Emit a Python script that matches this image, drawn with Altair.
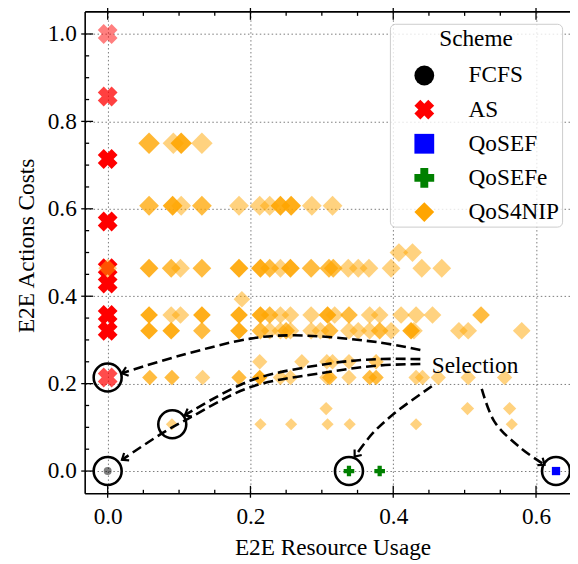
import altair as alt
import pandas as pd

FONT = "Liberation Serif"
FS = 23.5
W, H = 490, 487

SCHEMES = ["FCFS", "AS", "QoSEF", "QoSEFe", "QoS4NIP"]
COLORS = ["#000000", "#ff0000", "#0000ff", "#008000", "#ffa500"]
X_MARK = ("M -1 -0.4 L -0.4 -1 L 0 -0.6 L 0.4 -1 L 1 -0.4 L 0.6 0 "
          "L 1 0.4 L 0.4 1 L 0 0.6 L -0.4 1 L -1 0.4 L -0.6 0 Z")
SHAPES = ["circle", X_MARK, "square", "cross", "diamond"]

X_TICKS = [0.0, 0.2, 0.4, 0.6]
Y_TICKS = [0.0, 0.2, 0.4, 0.6, 0.8, 1.0]
X_MINOR = [0.05, 0.1, 0.15, 0.25, 0.3, 0.35, 0.45, 0.5, 0.55]
Y_MINOR = [0.05, 0.1, 0.15, 0.25, 0.3, 0.35, 0.45, 0.5, 0.55,
           0.65, 0.7, 0.75, 0.85, 0.9, 0.95]

# FCFS
fcfs_x = [0.0]
fcfs_y = [0.0]
fcfs_size = [64]
fcfs_alpha = [0.5]

# AS
as_x = [0.0, 0.0, 0.0, 0.0, 0.0, 0.0, 0.0, 0.0, 0.0]
as_y = [1.0, 0.857, 0.714, 0.571, 0.464, 0.429, 0.357, 0.321, 0.214]
as_size = [400, 400, 400, 400, 400, 400, 400, 400, 400]
as_alpha = [0.5, 0.75, 1.0, 1.0, 1.0, 1.0, 1.0, 1.0, 0.7]

# QoSEF
qosef_x = [0.628]
qosef_y = [0.0]
qosef_size = [70]
qosef_alpha = [1.0]

# QoSEFe
qosefe_x = [0.338, 0.381]
qosefe_y = [0.0, 0.0]
qosefe_size = [115, 115]
qosefe_alpha = [1.0, 1.0]

# QoS4NIP, one row per cost level: (cost, marker size, x values, alphas)
nip_rows = [
    (0.75, 470, [0.058, 0.092, 0.103, 0.132], [0.8, 0.5, 0.9, 0.5]),
    (0.607, 400, [0.058, 0.091, 0.103, 0.132, 0.184, 0.213, 0.227, 0.242, 0.257, 0.286, 0.315],
     [0.75, 0.9, 0.5, 0.75, 0.5, 0.5, 0.5, 0.9, 0.9, 0.5, 0.5]),
    (0.5, 360, [0.408, 0.427], [0.5, 0.5]),
    (0.464, 360, [0.0, 0.058, 0.089, 0.102, 0.132, 0.184, 0.214, 0.227, 0.242, 0.256, 0.285,
                  0.310, 0.316, 0.337, 0.351, 0.366, 0.397, 0.440, 0.468],
     [0.5, 0.85, 0.75, 0.5, 0.75, 0.9, 0.9, 0.75, 0.5, 0.9, 0.75,
      0.75, 0.75, 0.5, 0.5, 0.5, 0.5, 0.5, 0.5]),
    (0.393, 280, [0.188], [0.5]),
    (0.357, 320, [0.058, 0.089, 0.102, 0.132, 0.184, 0.214, 0.227, 0.242, 0.256, 0.285,
                  0.308, 0.318, 0.338, 0.367, 0.381, 0.411, 0.432, 0.455, 0.523],
     [0.9, 0.5, 0.5, 0.9, 0.9, 0.9, 0.75, 0.5, 0.5, 0.5,
      0.9, 0.5, 0.75, 0.5, 0.5, 0.5, 0.5, 0.5, 0.75]),
    (0.321, 320, [0.058, 0.089, 0.132, 0.184, 0.214, 0.227, 0.242, 0.250, 0.256, 0.285, 0.298,
                  0.311, 0.338, 0.351, 0.367, 0.381, 0.397, 0.425, 0.429, 0.492, 0.505, 0.580],
     [0.9, 0.9, 0.75, 0.9, 0.75, 0.5, 0.5, 0.75, 0.5, 0.5, 0.5,
      0.75, 0.5, 0.5, 0.5, 0.75, 0.5, 0.9, 0.5, 0.5, 0.5, 0.5]),
    (0.25, 240, [0.213, 0.272, 0.307, 0.315, 0.338, 0.376], [0.5, 0.5, 0.5, 0.5, 0.5, 0.6]),
    (0.214, 240, [0.059, 0.090, 0.133, 0.184, 0.213, 0.242, 0.256, 0.307, 0.311, 0.338, 0.367,
                  0.376, 0.432, 0.441, 0.463, 0.505, 0.556],
     [0.75, 0.75, 0.5, 0.75, 0.9, 0.5, 0.5, 0.5, 0.75, 0.5, 0.75,
      0.75, 0.5, 0.5, 0.5, 0.5, 0.5]),
    (0.143, 180, [0.306, 0.504, 0.563], [0.5, 0.5, 0.5]),
    (0.107, 150, [0.090, 0.214, 0.257, 0.308, 0.339, 0.432, 0.566],
     [0.5, 0.5, 0.5, 0.5, 0.5, 0.5, 0.5]),
]

# annotation: selected points (rings)
ring_x = [0.0, 0.0, 0.0905, 0.338, 0.628]
ring_y = [0.0, 0.214, 0.107, 0.0, 0.0]

# annotation: dashed arrows from the "Selection" label
arrows = [
    ([0.438, 0.377, 0.261, 0.200, 0.099, 0.020], [0.277, 0.295, 0.3105, 0.303, 0.263, 0.224]),
    ([0.438, 0.376, 0.307, 0.200, 0.108], [0.256, 0.256, 0.245, 0.207, 0.1275]),
    ([0.438, 0.376, 0.307, 0.200, 0.113, 0.076, 0.020], [0.245, 0.241, 0.226, 0.192, 0.120, 0.086, 0.0256]),
    ([0.454, 0.404, 0.371, 0.346], [0.194, 0.135, 0.086, 0.033]),
    ([0.524, 0.542, 0.579, 0.612], [0.188, 0.1125, 0.052, 0.0143]),
]
head_angles = [163, 152, 146, 128, 36]
label_text = ["Selection"]
label_x = [0.454]
label_y = [0.24]

# ---------------- tables ----------------
recs = []


def add(scheme, xs, ys, sizes, alphas):
    for x, y, s, a in zip(xs, ys, sizes, alphas):
        recs.append({"scheme": scheme, "x": x, "y": y, "size": s, "alpha": a, "idx": len(recs)})


add("FCFS", fcfs_x, fcfs_y, fcfs_size, fcfs_alpha)
add("AS", as_x, as_y, as_size, as_alpha)
add("QoSEF", qosef_x, qosef_y, qosef_size, qosef_alpha)
add("QoSEFe", qosefe_x, qosefe_y, qosefe_size, qosefe_alpha)
for cost, sz, xs, als in nip_rows:
    add("QoS4NIP", xs, [cost] * len(xs), [sz] * len(xs), als)
pts_df = pd.DataFrame(recs)

ring_df = pd.DataFrame({"x": ring_x, "y": ring_y})

arr_recs, head_recs = [], []
for i, (xs, ys) in enumerate(arrows):
    for k, (x, y) in enumerate(zip(xs, ys)):
        arr_recs.append({"arrow": i, "k": k, "x": x, "y": y})
    head_recs.append({"x": xs[-1], "y": ys[-1], "ang": head_angles[i]})
arr_df = pd.DataFrame(arr_recs)
head_df = pd.DataFrame(head_recs)
text_df = pd.DataFrame({"x": label_x, "y": label_y, "t": label_text})

# ---------------- scales / axes ----------------
xsc = alt.Scale(domain=[-0.0315, 0.6476], nice=False, zero=False)
ysc = alt.Scale(domain=[-0.052, 1.0505], nice=False, zero=False)

grid_kw = dict(domain=False, ticks=False, tickSize=0, grid=True, gridDash=[1.5, 2.5],
               gridColor="#7a7a7a", gridWidth=1, labelFont=FONT, labelFontSize=FS,
               labelColor="black", titleFont=FONT, titleFontSize=FS, titleFontWeight="normal",
               titleColor="black", format=".1f")
x_axis = alt.Axis(values=X_TICKS, labelPadding=11, title="E2E Resource Usage",
                  titleX=250, titleY=61, titleAlign="center", titleBaseline="alphabetic", **grid_kw)
y_axis = alt.Axis(values=Y_TICKS, labelPadding=9, title="E2E Actions Costs",
                  titleX=-59, titleY=236, titleAlign="center", titleBaseline="middle",
                  titleAngle=270, **grid_kw)


def X(field):
    return alt.X(field, scale=xsc, axis=x_axis)


def Y(field):
    return alt.Y(field, scale=ysc, axis=y_axis)


leg = alt.Legend(title="Scheme", orient="none", legendX=308, legendY=12,
                 titleFont=FONT, titleFontSize=FS, titleFontWeight="normal", titleColor="black",
                 titleAnchor="middle", titlePadding=14,
                 labelFont=FONT, labelFontSize=FS, labelColor="black",
                 symbolSize=400, symbolOpacity=1, symbolStrokeWidth=0,
                 symbolOffset=20, labelOffset=33, rowPadding=9.5, padding=3,
                 strokeColor="#cccccc", fillColor="rgba(255,255,255,0.8)", cornerRadius=5)

pts = alt.Chart(pts_df).mark_point(filled=True, strokeWidth=0).encode(
    x=X("x:Q"),
    y=Y("y:Q"),
    color=alt.Color("scheme:N", scale=alt.Scale(domain=SCHEMES, range=COLORS), legend=leg),
    shape=alt.Shape("scheme:N", scale=alt.Scale(domain=SCHEMES, range=SHAPES), legend=leg),
    size=alt.Size("size:Q", scale=None),
    opacity=alt.Opacity("alpha:Q", scale=None),
    order=alt.Order("idx:Q"),
)

rings = alt.Chart(ring_df).mark_point(shape="circle", filled=False, size=800, strokeWidth=2.6,
                                      color="black", opacity=1).encode(x=X("x:Q"), y=Y("y:Q"))

lines = alt.Chart(arr_df).mark_line(color="black", strokeWidth=2.6, strokeDash=[10, 5],
                                    interpolate="catmull-rom").encode(
    x=X("x:Q"), y=Y("y:Q"), detail="arrow:N", order="k:Q")

heads = alt.Chart(head_df).mark_point(shape="M -1 -0.8 L 0 0 L -1 0.8", filled=False, size=130,
                                      strokeWidth=2.2, color="black", opacity=1).encode(
    x=X("x:Q"), y=Y("y:Q"), angle=alt.Angle("ang:Q", scale=None))

label = alt.Chart(text_df).mark_text(align="left", baseline="middle", font=FONT, fontSize=FS,
                                     color="black").encode(x=X("x:Q"), y=Y("y:Q"), text="t:N")


def yticks(vals, x0, x1):
    return alt.Chart(pd.DataFrame({"y": vals})).mark_rule(color="black", strokeWidth=1.3).encode(
        y=Y("y:Q"), x=alt.value(x0), x2=alt.value(x1))


def xticks(vals, y0, y1):
    return alt.Chart(pd.DataFrame({"x": vals})).mark_rule(color="black", strokeWidth=1.3).encode(
        x=X("x:Q"), y=alt.value(y0), y2=alt.value(y1))


tick_layers = [
    yticks(Y_TICKS, -4, 8), yticks(Y_MINOR, 0, 4),
    xticks(X_TICKS, H + 4, H - 8), xticks(X_MINOR, H, H - 4),
    xticks(X_TICKS, -4, 8), xticks(X_MINOR, 0, 4),
]

one = pd.DataFrame({"k": [0]})
spines = [
    alt.Chart(one).mark_rule(color="black", strokeWidth=1.6).encode(
        x=alt.value(0), y=alt.value(0), y2=alt.value(H)),
    alt.Chart(one).mark_rule(color="black", strokeWidth=1.6).encode(
        x=alt.value(0), x2=alt.value(W), y=alt.value(0)),
    alt.Chart(one).mark_rule(color="black", strokeWidth=1.6).encode(
        x=alt.value(0), x2=alt.value(W), y=alt.value(H)),
]

chart = alt.layer(pts, rings, lines, heads, label, *tick_layers, *spines).properties(
    width=W, height=H,
    padding={"left": 78, "top": 1, "right": 0, "bottom": 66},
    autosize=alt.AutoSizeParams(type="none"),
    background="white",
).configure_view(stroke=None)

chart.save("out.html", embed_options={"renderer": "svg", "actions": False})
